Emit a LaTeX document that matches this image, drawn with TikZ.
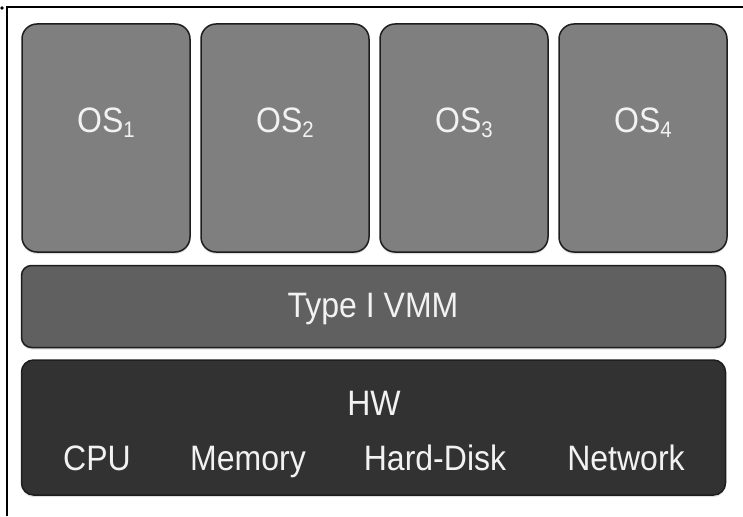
\documentclass[tikz,border=0pt]{standalone}
\usepackage{fontspec}
\setmainfont{Liberation Sans}
\usetikzlibrary{shadows}

\definecolor{osgray}{RGB}{127,127,127}
\definecolor{vmmgray}{RGB}{96,96,96}
\definecolor{hwgray}{RGB}{50,50,50}
\definecolor{edgegray}{RGB}{30,30,30}
\definecolor{labelwhite}{RGB}{242,242,242}

\newcommand{\tall}[1]{\scalebox{0.97}[1.07]{#1}}
\newcommand{\ossub}[1]{\tall{OS\raisebox{-5pt}{\fontsize{21}{22}\selectfont #1}}}

\tikzset{every picture/.style={line width=0.75pt}}
\tikzset{
  layerbox/.style={draw=edgegray, line width=1.5pt, inner sep=0pt,
    drop shadow={opacity=0.25, shadow xshift=0pt, shadow yshift=-2pt}},
  osbox/.style={layerbox, fill=osgray, rounded corners=15pt,
    minimum width=168pt, minimum height=228pt},
  vmmbox/.style={layerbox, fill=vmmgray, rounded corners=10pt,
    minimum width=704pt, minimum height=82pt},
  hwbox/.style={layerbox, fill=hwgray, rounded corners=12pt,
    minimum width=704pt, minimum height=135pt},
  boxlabel/.style={anchor=base, inner sep=0.75pt, text=labelwhite,
    font=\fontsize{33}{40}\selectfont}
}

\begin{document}
\begin{tikzpicture}[x=1pt,y=1pt,yscale=-1,xscale=1]
\useasboundingbox (0,0) rectangle (743,516);

%Frame
\draw [line width=2.2pt] (7,516) -- (7,7) -- (743,7) ;
\fill (2,8) circle (1.8) ;

%OS boxes
\foreach \i in {1,...,4}{
  \node [osbox] (os\i) at ({106+179*(\i-1)},138) {} ;
  % Text Node
  \node [boxlabel] (os\i-label) at ({106+179*(\i-1)},132) {\ossub{\i}} ;
}

%Layers
\node [vmmbox] (vmm) at (373.5,306.5) {} ;
\node [hwbox] (hw) at (373.5,427.5) {} ;

% Text Node
\node [boxlabel] (vmm-label) at (373,317) {\tall{Type I VMM}} ;
% Text Node
\node [boxlabel] (hw-label) at (374,415) {\tall{HW}} ;
% Text Node
\node [boxlabel] (cpu) at (97,470) {\tall{CPU}} ;
% Text Node
\node [boxlabel] (memory) at (248,470) {\tall{Memory}} ;
% Text Node
\node [boxlabel] (disk) at (435,470) {\tall{Hard-Disk}} ;
% Text Node
\node [boxlabel] (network) at (626,470) {\tall{Network}} ;

\end{tikzpicture}
\end{document}
